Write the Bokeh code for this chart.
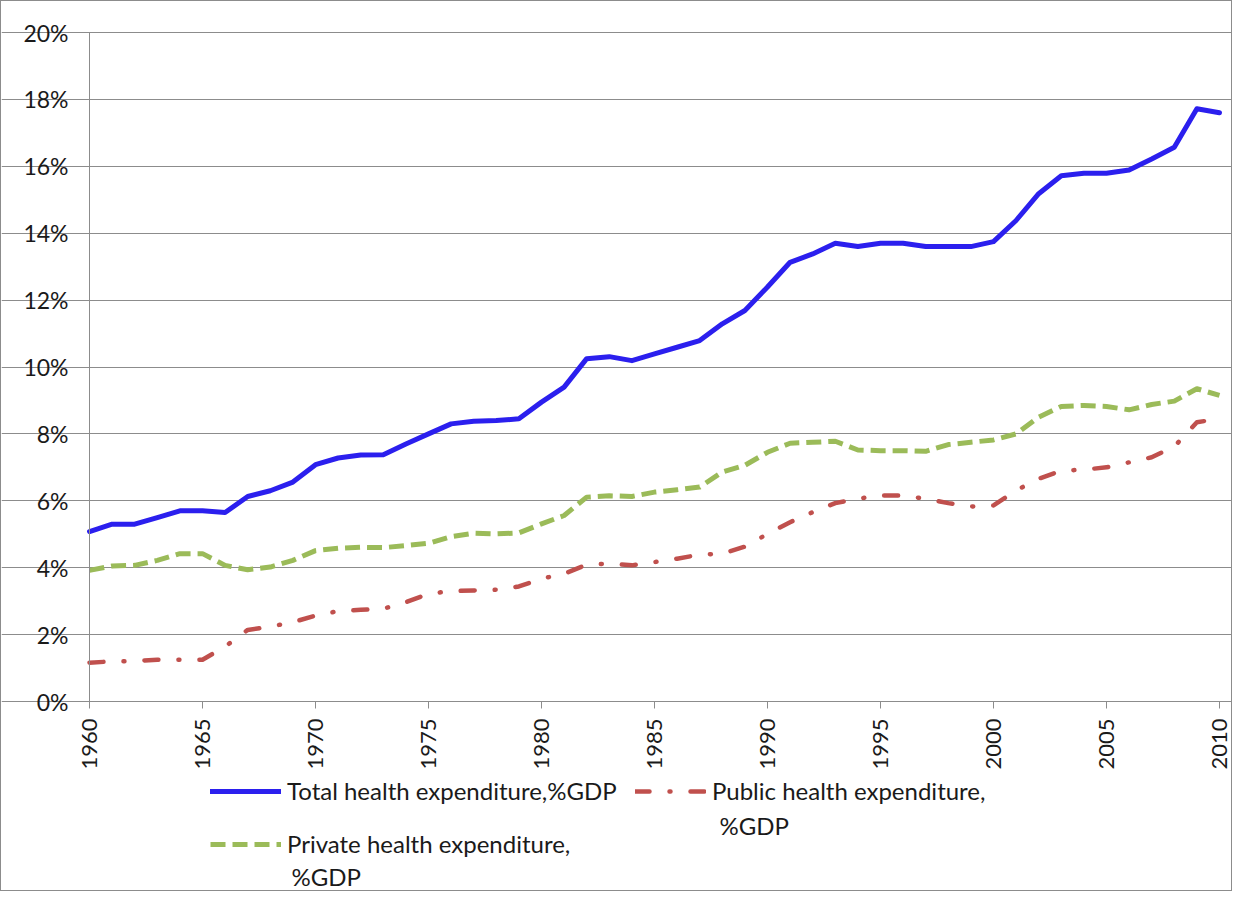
import math
from bokeh.plotting import figure
from bokeh.models import (Legend, LegendItem, Label, FixedTicker,
                          PrintfTickFormatter, Range1d)
from bokeh.embed import file_html
from bokeh.resources import INLINE

# ---------------- data ----------------
years = list(range(1960, 2011))

total = [5.08, 5.3, 5.3, 5.5, 5.7, 5.7, 5.65, 6.13, 6.3, 6.56,
         7.08, 7.28, 7.37, 7.38, 7.7, 8.0, 8.3, 8.38, 8.4, 8.45,
         8.95, 9.4, 10.25, 10.31, 10.19, 10.39, 10.59, 10.79, 11.29, 11.69,
         12.39, 13.13, 13.38, 13.7, 13.6, 13.7, 13.7, 13.6, 13.6, 13.6,
         13.75, 14.38, 15.18, 15.72, 15.79, 15.79, 15.89, 16.22, 16.57, 17.72, 17.6]

public = [1.16, 1.2, 1.21, 1.25, 1.25, 1.25, 1.64, 2.14, 2.24, 2.37,
          2.57, 2.7, 2.74, 2.77, 2.97, 3.22, 3.3, 3.32, 3.34, 3.44,
          3.67, 3.82, 4.09, 4.12, 4.07, 4.17, 4.27, 4.39, 4.42, 4.63,
          5.01, 5.36, 5.66, 5.93, 6.06, 6.16, 6.16, 6.06, 5.93, 5.83,
          5.86, 6.31, 6.66, 6.9, 6.93, 7.0, 7.15, 7.3, 7.62, 8.35, 8.45]

private = [3.92, 4.05, 4.07, 4.22, 4.42, 4.42, 4.07, 3.94, 4.02, 4.22,
           4.51, 4.58, 4.61, 4.6, 4.66, 4.73, 4.93, 5.03, 5.01, 5.04,
           5.31, 5.56, 6.11, 6.15, 6.13, 6.26, 6.33, 6.41, 6.86, 7.06,
           7.45, 7.72, 7.75, 7.78, 7.52, 7.5, 7.5, 7.48, 7.68, 7.75,
           7.82, 8.0, 8.5, 8.82, 8.85, 8.82, 8.72, 8.88, 8.98, 9.35, 9.15]

series_names = ["Total health expenditure,%GDP",
                "Public health expenditure,",
                "Private health expenditure,"]
name_second_line = "%GDP"

y_ticks = list(range(0, 21, 2))
x_ticks = list(range(1960, 2011, 5))

assert len(total) == len(public) == len(private) == len(years)

FONT = "Lato"
TXT = "#1a1a1a"
GRID = "#8c8c8c"

# The frame covers the whole canvas; the axes are pinned at x=1960 / y=0 so
# that tick labels and the legend below the chart are drawn without clipping.
p = figure(width=1232, height=891, output_backend="svg", toolbar_location=None,
           x_range=Range1d(1956.106, 2010.62), y_range=Range1d(-5.71, 20.927),
           min_border_left=0, min_border_right=0, min_border_top=0,
           min_border_bottom=0,
           styles={"border": "1px solid #8c8c8c"})

p.outline_line_color = None
p.background_fill_color = "white"
p.border_fill_color = "white"

# axes
p.xaxis.ticker = FixedTicker(ticks=x_ticks)
p.yaxis.ticker = FixedTicker(ticks=y_ticks)
p.yaxis.formatter = PrintfTickFormatter(format="%d%%")
p.xaxis.major_label_orientation = math.pi / 2
p.xaxis.fixed_location = 0
p.yaxis.fixed_location = 1960
p.xaxis.bounds = (1960, 2010)
p.yaxis.bounds = (0, 20)
for ax in (p.xaxis, p.yaxis):
    ax.axis_line_color = GRID
    ax.major_tick_line_color = GRID
    ax.minor_tick_line_color = None
    ax.major_tick_in = 0
    ax.major_tick_out = 7
    ax.major_label_text_font = FONT
    ax.major_label_text_color = TXT
p.xaxis.major_label_text_font_size = "22px"
p.yaxis.major_label_text_font_size = "23px"
p.xaxis.major_label_standoff = 10
p.yaxis.major_label_standoff = 14

p.xgrid.grid_line_color = None
p.ygrid.grid_line_color = GRID
p.ygrid.grid_line_width = 1
p.ygrid.bounds = (1960, 2010)

# lines
r_total = p.line(years, total, line_color="#2b1fee", line_width=5,
                 line_join="round", line_cap="round")
r_public = p.line(years, public, line_color="#c0504d", line_width=4.5,
                  line_dash="14 20 1 20", line_cap="round", line_join="round")
r_private = p.line(years, private, line_color="#9bbb59", line_width=5,
                   line_dash="15 7", line_cap="butt", line_join="round")

def make_legend(label, renderer, loc):
    lg = Legend(items=[LegendItem(label=label, renderers=[renderer])],
                location=loc, orientation="vertical",
                glyph_width=71, glyph_height=24, label_height=24,
                label_standoff=6, padding=0, spacing=0, margin=0,
                border_line_color=None, background_fill_alpha=0,
                label_text_font=FONT, label_text_font_size="24px",
                label_text_color=TXT)
    p.add_layout(lg, "center")

make_legend(series_names[0], r_total, (209, 87))
make_legend(series_names[1], r_public, (634, 87))
make_legend(series_names[2], r_private, (209, 34))

p.add_layout(Label(x=1987.88, y=-3.71, text=name_second_line,
                   text_font=FONT, text_font_size="24px", text_color=TXT,
                   text_baseline="middle"))
p.add_layout(Label(x=1968.94, y=-5.22, text=name_second_line,
                   text_font=FONT, text_font_size="24px", text_color=TXT,
                   text_baseline="middle"))

open("out.html", "w").write(file_html(p, INLINE))
